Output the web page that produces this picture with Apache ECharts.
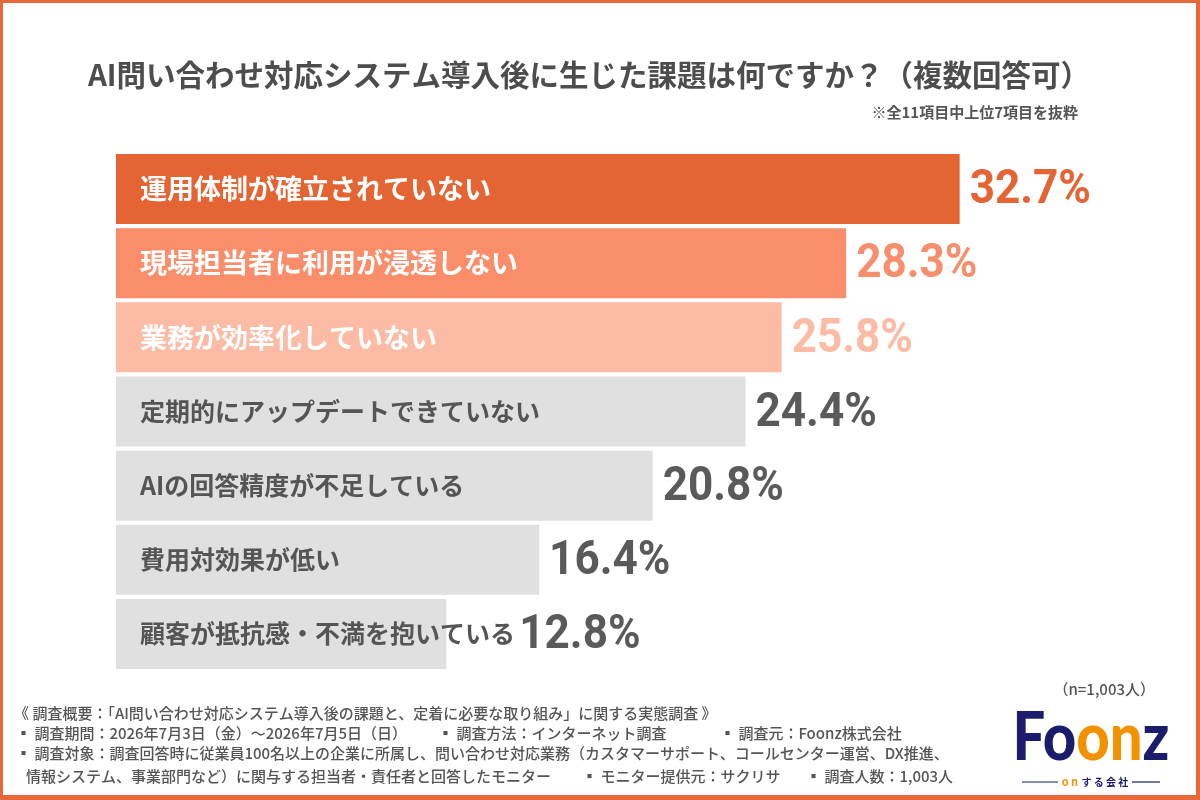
<!DOCTYPE html>
<html>
<head>
<meta charset="utf-8">
<script src="https://cdn.jsdelivr.net/npm/echarts@6/dist/echarts.min.js"></script>
<style>
html,body{margin:0;padding:0;background:#fff;}
#chart{width:1200px;height:800px;}
</style>
</head>
<body>
<div id="chart"></div>
<script>
const categories = [
  '運用体制が確立されていない',
  '現場担当者に利用が浸透しない',
  '業務が効率化していない',
  '定期的にアップデートできていない',
  'AIの回答精度が不足している',
  '費用対効果が低い',
  '顧客が抵抗感・不満を抱いている'
];
const values = [32.7, 28.3, 25.8, 24.4, 20.8, 16.4, 12.8];

const barColors = ['#E56433', '#FA8E6B', '#FCBBA5', '#E0E0E0', '#E0E0E0', '#E0E0E0', '#E0E0E0'];
const nameColors = ['#ffffff', '#ffffff', '#ffffff', '#555555', '#555555', '#555555', '#555555'];
const valueColors = ['#E56433', '#F98E6C', '#FCBBA5', '#5a5a5a', '#5a5a5a', '#5a5a5a', '#5a5a5a'];
const valueLabelShift = [0, 0, 0, 0, 0, 0, 63];

const JP = '"Noto Sans CJK JP", "Noto Sans", sans-serif';
const NUM = 'Roboto, "DejaVu Sans Condensed", sans-serif';

const chart = echarts.init(document.getElementById('chart'), null, {renderer: 'canvas'});

const nameData = values.map((v, i) => ({
  value: v,
  name: categories[i],
  itemStyle: {color: barColors[i]},
  label: {color: nameColors[i], fontSize: i < 3 ? 27 : 25}
}));

const footerStyle = {fontFamily: JP, fontSize: 15, fontWeight: 500, fill: '#555555'};
function ft(x, y, text) {
  return {type: 'text', left: x, top: y, style: Object.assign({text: text}, footerStyle)};
}

const option = {
  backgroundColor: '#ffffff',
  animation: false,
  grid: {left: 116, top: 152, width: 1032, height: 519, containLabel: false},
  xAxis: {type: 'value', min: 0, max: 40, show: false},
  yAxis: {type: 'category', data: categories, inverse: true, show: false},
  series: [
    {
      type: 'bar',
      data: nameData,
      barWidth: 70,
      silent: true,
      label: {
        show: true,
        position: 'insideLeft',
        distance: 24,
        formatter: '{b}',
        fontFamily: JP,
        fontWeight: 'bold'
      },
      z: 2
    },
    {
      type: 'custom',
      silent: true,
      data: values.map((v, i) => [v, i]),
      encode: {x: 0, y: 1},
      renderItem: function (params, api) {
        const i = params.dataIndex;
        const p = api.coord([api.value(0), api.value(1)]);
        return {
          type: 'text',
          x: p[0] + 10 + valueLabelShift[i],
          y: p[1] + 2,
          scaleX: 0.9,
          style: {
            text: api.value(0).toFixed(1) + '%',
            fontFamily: NUM,
            fontWeight: 'bold',
            fontSize: 49,
            fill: valueColors[i],
            align: 'left',
            verticalAlign: 'middle'
          }
        };
      },
      z: 3
    }
  ],
  graphic: [
    {type: 'rect', shape: {x: 0, y: 0, width: 1200, height: 3}, style: {fill: '#E8683A'}},
    {type: 'rect', shape: {x: 0, y: 0, width: 3, height: 800}, style: {fill: '#E8683A'}},
    {type: 'rect', shape: {x: 1196, y: 0, width: 4, height: 800}, style: {fill: '#E8683A'}},
    {type: 'rect', shape: {x: 0, y: 795, width: 1200, height: 5}, style: {fill: '#E8683A'}},
    {
      type: 'text', x: 589, y: 75,
      style: {
        text: 'AI問い合わせ対応システム導入後に生じた課題は何ですか？（複数回答可）',
        fontFamily: JP, fontSize: 29.5, fontWeight: 'bold', fill: '#4d4d4d',
        align: 'center', verticalAlign: 'middle'
      }
    },
    {
      type: 'text', x: 1078, y: 112,
      style: {
        text: '※全11項目中上位7項目を抜粋',
        fontFamily: JP, fontSize: 15, fontWeight: 'bold', fill: '#555555',
        align: 'right', verticalAlign: 'middle'
      }
    },
    {
      type: 'text', x: 1155, y: 689,
      style: {
        text: '（n=1,003人）',
        fontFamily: JP, fontSize: 15, fontWeight: 500, fill: '#555555',
        align: 'right', verticalAlign: 'middle'
      }
    },
    ft(14, 706, '《 調査概要：「AI問い合わせ対応システム導入後の課題と、定着に必要な取り組み」に関する実態調査 》'),
    ft(16, 726, '▪ 調査期間：2026年7月3日（金）〜2026年7月5日（日）'),
    ft(438, 726, '▪ 調査方法：インターネット調査'),
    ft(720, 726, '▪ 調査元：Foonz株式会社'),
    ft(16, 746, '▪ 調査対象：調査回答時に従業員100名以上の企業に所属し、問い合わせ対応業務（カスタマーサポート、コールセンター運営、DX推進、'),
    ft(26, 769, '情報システム、事業部門など）に関与する担当者・責任者と回答したモニター'),
    ft(582, 769, '▪ モニター提供元：サクリサ'),
    ft(806, 769, '▪ 調査人数：1,003人'),
    {
      type: 'text', x: 1091, y: 738, scaleY: 1.15,
      style: {
        text: '{n|Fo}{o|on}{n|z}',
        align: 'center', verticalAlign: 'middle',
        rich: {
          n: {fontFamily: 'Lato, sans-serif', fontWeight: 900, fontSize: 58, fill: '#1B1C6B', color: '#1B1C6B'},
          o: {fontFamily: 'Lato, sans-serif', fontWeight: 900, fontSize: 58, fill: '#F39200', color: '#F39200'}
        }
      }
    },
    {type: 'line', shape: {x1: 1022, y1: 782, x2: 1058, y2: 782}, style: {stroke: '#1B1C6B', lineWidth: 1.2}},
    {type: 'line', shape: {x1: 1132, y1: 782, x2: 1160, y2: 782}, style: {stroke: '#1B1C6B', lineWidth: 1.2}},
    {
      type: 'text', x: 1095, y: 782,
      style: {
        text: '{o|o n} {n|す る 会 社}',
        align: 'center', verticalAlign: 'middle',
        rich: {
          o: {fontSize: 11, fontWeight: 'bold', fill: '#F39200', color: '#F39200', fontFamily: JP},
          n: {fontSize: 10, fontWeight: 'bold', fill: '#1B1C6B', color: '#1B1C6B', fontFamily: JP}
        }
      }
    }
  ]
};
chart.setOption(option);
</script>
</body>
</html>
